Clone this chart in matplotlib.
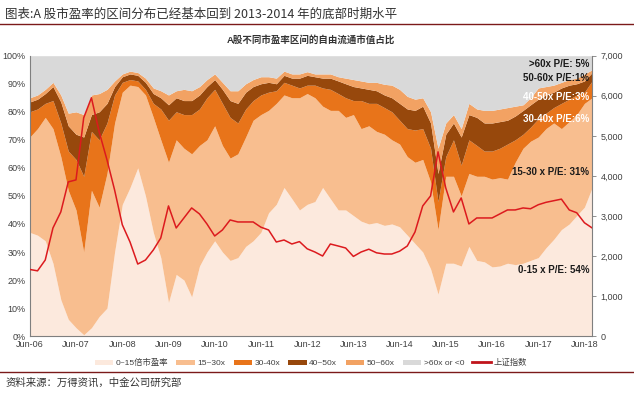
import matplotlib
matplotlib.use('Agg')
import matplotlib.pyplot as plt
import matplotlib.ticker as mticker
from matplotlib.patches import Patch
from matplotlib.lines import Line2D
import numpy as np
import pandas as pd

plt.rcParams['font.family'] = ['Liberation Sans', 'Noto Sans CJK SC']

# ==============================
# 数据：双月采样，2006-06 ~ 2018-08
# 各区间累计占比上沿（%），以及上证指数
# ==============================
dates = pd.date_range('2006-06-01', periods=74, freq='2MS')

cum_0_15 = [37, 36, 34, 26, 13, 6, 3, 0.5, 3, 7, 10, 30, 47, 53, 60, 50, 37, 28, 12, 22,
            20, 14, 25, 30, 34, 30, 27, 28, 32, 34, 37, 44, 47, 53, 49, 45, 47, 48, 53, 49,
            45, 45, 43, 41, 40, 40.5, 39.5, 40, 39, 36, 33, 30, 24, 15, 26, 26, 25, 32, 27, 26.5,
            24.7, 25, 26, 25.5, 26, 27, 28, 31.5, 34.5, 38, 40, 43, 46, 53]
cum_0_30 = [71, 74, 78, 74, 64, 52, 45, 30, 52, 46, 58, 76, 87, 89.5, 89, 86, 78, 70, 62, 70,
            67, 65, 68, 70, 75, 68, 63.5, 65, 71, 77, 79, 80.5, 83, 86, 85, 85, 86.5, 85, 82, 80.5,
            80.5, 78, 79, 74, 75, 73, 72, 70, 68.5, 64, 62, 63, 55, 38, 57, 57, 50, 58, 57, 57,
            56, 56.5, 56, 62, 67, 69.5, 71, 74, 76, 74, 76.5, 79, 83, 85]
cum_0_40 = [80, 81, 83, 84, 76, 66, 63, 57, 73, 70, 76, 86, 90.5, 91.5, 91, 88, 83, 81, 77, 80,
            79, 79, 81, 85, 88, 83, 78, 76, 81, 84, 86, 87, 87.5, 90.5, 89.5, 88.5, 89.5, 89.5, 88.5, 88,
            86.5, 85, 84, 84, 83, 83, 81.5, 80, 77, 74, 73.5, 74, 67, 48, 64, 70, 61, 70, 68, 66,
            66, 67, 68.5, 70, 72, 74.5, 77.5, 79.5, 81.5, 83, 84.5, 86, 87, 91]
cum_0_50 = [83.5, 84.5, 86.5, 89, 83.5, 75, 72, 71, 79, 80, 83, 89, 92.5, 93.5, 93, 90.5, 86.5, 85, 82.5, 85,
            84, 84, 86, 89, 91.5, 88, 84, 83, 87, 89, 90, 90.5, 90, 93, 92, 92, 93, 92.5, 92, 92,
            91, 90, 89, 88.5, 88, 87.5, 86, 85, 83, 81, 80.5, 82, 76, 58, 72, 76, 71, 79, 78, 76,
            76, 76.5, 77, 78.5, 80.5, 82.5, 84.5, 86, 87, 88.5, 89.5, 90, 91, 94]
cum_0_60 = [85, 86, 88, 90.5, 86, 79.5, 80, 79, 86, 86.5, 88, 91, 93.5, 94.5, 94, 92, 88.5, 87.5, 86, 87.5,
            88, 87.5, 89, 91.5, 93.5, 90.5, 87.5, 87.5, 90, 91.5, 92.5, 92.5, 92, 94.5, 93.5, 93.5, 94.3, 93.5, 93.5, 93.5,
            92.5, 92, 91.5, 91, 90.5, 90.5, 89.8, 89.5, 88, 85.5, 84.5, 85, 80, 67, 76, 79, 74, 83, 81, 80.5,
            80.5, 81, 81.5, 82, 82.5, 85, 88.5, 89, 89.5, 90.5, 91.5, 92, 93.5, 95]
sh_index = [1665, 1630, 1900, 2700, 3100, 3850, 3900, 5450, 5950, 5100, 4400, 3650, 2780, 2350, 1800, 1900, 2150, 2450, 3250, 2700,
            2950, 3200, 3050, 2800, 2500, 2650, 2900, 2850, 2850, 2850, 2720, 2650, 2350, 2400, 2300, 2360, 2180, 2100, 2000, 2300,
            2250, 2200, 1990, 2100, 2170, 2080, 2050, 2050, 2120, 2250, 2600, 3250, 3500, 4600, 3700, 3100, 3450, 2800, 2950, 2950,
            2950, 3050, 3150, 3150, 3200, 3180, 3280, 3340, 3380, 3420, 3150, 3080, 2830, 2700]

band_labels = ['0~15倍市盈率', '15~30x', '30-40x', '40~50x', '50~60x', '>60x or <0']
band_colors = ['#FCE9DD', '#F8BE8F', '#E8741A', '#97480C', '#F2A263', '#D9D9D9']
end_notes = ['0-15 x P/E: 54%', '15-30 x P/E: 31%', '30-40x P/E:6%', '40-50x P/E:3%', '50-60x P/E:1%', '>60x P/E: 5%']

# ==============================
# 画图
# ==============================
fig = plt.figure(figsize=(6.34, 3.95), dpi=100)
ax = fig.add_axes([0.047, 0.149, 0.887, 0.710])

edges = [np.zeros(len(dates)), cum_0_15, cum_0_30, cum_0_40, cum_0_50, cum_0_60, np.full(len(dates), 100)]
for i in range(6):
    ax.fill_between(dates, np.array(edges[i]) / 100, np.array(edges[i + 1]) / 100,
                    color=band_colors[i], linewidth=0)

ax.set_xlim(dates[0], dates[-1])
ax.set_ylim(0, 1)
ax.yaxis.set_major_locator(mticker.MultipleLocator(0.1))
ax.yaxis.set_major_formatter(mticker.PercentFormatter(1.0, decimals=0))
ticks = pd.date_range('2006-06-01', '2018-06-01', freq='12MS')
ax.set_xticks(ticks)
ax.set_xticklabels([d.strftime('Jun-%y') for d in ticks])
ax.tick_params(axis='both', labelsize=6.5, colors='#404040', length=0, pad=3)
for s in ['top', 'right']:
    ax.spines[s].set_visible(False)
for s in ['left', 'bottom']:
    ax.spines[s].set_color('#7f7f7f')
    ax.spines[s].set_linewidth(0.8)

ax2 = ax.twinx()
ax2.plot(dates, sh_index, color='#DC1A1E', linewidth=1.1)
ax2.set_ylim(0, 7000)
ax2.yaxis.set_major_locator(mticker.MultipleLocator(1000))
ax2.yaxis.set_major_formatter(mticker.FuncFormatter(lambda v, p: f'{int(v):,}'))
ax2.tick_params(axis='y', labelsize=6.5, colors='#404040', length=3, width=0.6, pad=3)
ax2.tick_params(axis='y', color='#7f7f7f')
for s in ['top', 'left', 'bottom']:
    ax2.spines[s].set_visible(False)
ax2.spines['right'].set_color('#7f7f7f')
ax2.spines['right'].set_linewidth(0.8)

# 右侧标注
note_y = [0.235, 0.585, 0.775, 0.852, 0.92, 0.97]
note_c = ['#1a1a1a', '#1a1a1a', 'white', 'white', '#1a1a1a', '#1a1a1a']
for txt, yy, cc in zip(end_notes, note_y, note_c):
    ax.text(0.995, yy, txt, transform=ax.transAxes, ha='right', va='center',
            fontsize=7, fontweight='bold', color=cc)

# 标题与注释
fig.text(0.008, 0.963, '图表:A 股市盈率的区间分布已经基本回到 2013-2014 年的底部时期水平',
         fontsize=9, color='#333333', family=['Noto Sans CJK SC'], style='italic', va='center')
fig.add_artist(Line2D([0, 1], [0.938, 0.938], color='#7B1A1A', linewidth=1.0))
fig.text(0.49, 0.898, 'A股不同市盈率区间的自由流通市值占比', fontsize=6.8, fontweight='bold',
         color='#333333', ha='center', va='center')

handles = [Patch(facecolor=c, edgecolor='none') for c in band_colors]
handles.append(Line2D([0], [0], color='#C0141B', linewidth=2))
fig.legend(handles, band_labels + ['上证指数'], loc='center', bbox_to_anchor=(0.49, 0.081),
           ncol=7, frameon=False, fontsize=6.0, handlelength=2.2, handleheight=0.55,
           handletextpad=0.3, columnspacing=1.0, labelcolor='#404040')

fig.add_artist(Line2D([0, 1], [0.058, 0.058], color='#7B1A1A', linewidth=1.0))
fig.text(0.008, 0.030, '资料来源：万得资讯，中金公司研究部', fontsize=7.5, color='#333333',
         family=['Noto Sans CJK SC'], style='italic', va='center')

fig.savefig('out.png', dpi=100)
